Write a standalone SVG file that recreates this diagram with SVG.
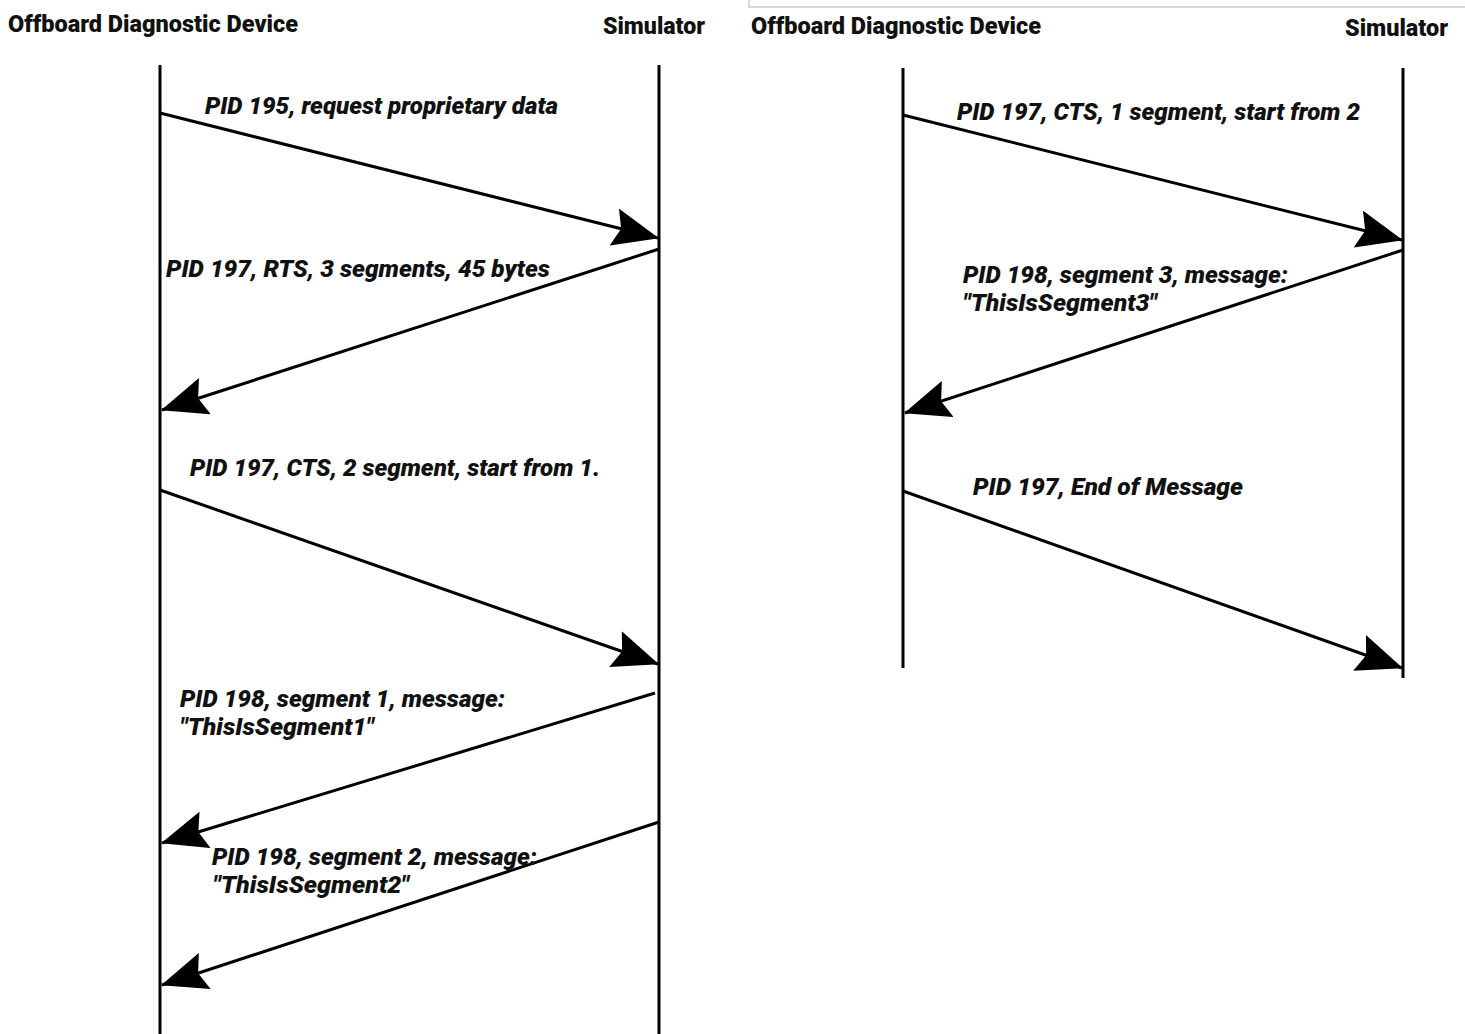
<svg xmlns="http://www.w3.org/2000/svg" width="1465" height="1034" viewBox="0 0 1465 1034">
<style>
.hdr{font-family:Roboto,"Liberation Sans",sans-serif;font-weight:900;font-size:24px;fill:#111}
.lbl{font-family:Roboto,"Liberation Sans",sans-serif;font-weight:900;font-style:italic;font-size:24px;fill:#111}
.life{stroke:#000;stroke-width:3;fill:none}
.msg{stroke:#000;stroke-width:3;fill:none;marker-end:url(#ah)}
</style>
<defs>
<marker id="ah" markerUnits="userSpaceOnUse" viewBox="0 0 46 38" refX="45" refY="19" markerWidth="46" markerHeight="38" orient="auto">
<path d="M0,0 L46,19 L0,38 L7,19 Z" fill="#000"/>
</marker>
</defs>
<rect width="1465" height="1034" fill="#fff"/>
<path d="M749,0 V7 H1465" stroke="#ccc" stroke-width="1.5" fill="none"/>
<g id="left-device"><text class="hdr" x="8" y="32" textLength="290" lengthAdjust="spacingAndGlyphs">Offboard Diagnostic Device</text><line class="life" x1="160" y1="65" x2="160" y2="1034"/></g>
<g id="left-simulator"><text class="hdr" x="603" y="34" textLength="102" lengthAdjust="spacingAndGlyphs">Simulator</text><line class="life" x1="659" y1="65" x2="659" y2="1034"/></g>
<g id="right-device"><text class="hdr" x="751" y="34" textLength="290" lengthAdjust="spacingAndGlyphs">Offboard Diagnostic Device</text><line class="life" x1="903" y1="68" x2="903" y2="668"/></g>
<g id="right-simulator"><text class="hdr" x="1345" y="36" textLength="103" lengthAdjust="spacingAndGlyphs">Simulator</text><line class="life" x1="1403" y1="68" x2="1403" y2="678"/></g>
<g id="connectors">
<line class="msg" x1="160" y1="113" x2="658" y2="238"/>
<line class="msg" x1="659" y1="249" x2="162" y2="410"/>
<line class="msg" x1="160" y1="490" x2="658" y2="664"/>
<line class="msg" x1="655" y1="693" x2="162" y2="843"/>
<line class="msg" x1="659" y1="822" x2="162" y2="985"/>
<line class="msg" x1="903" y1="115" x2="1402" y2="240"/>
<line class="msg" x1="1403" y1="250" x2="905" y2="413"/>
<line class="msg" x1="903" y1="491" x2="1402" y2="668"/>
</g>
<g id="labels">
<text class="lbl" x="205" y="114" textLength="353" lengthAdjust="spacingAndGlyphs">PID 195, request proprietary data</text>
<text class="lbl" x="166" y="277" textLength="384" lengthAdjust="spacingAndGlyphs">PID 197, RTS, 3 segments, 45 bytes</text>
<text class="lbl" x="190" y="476" textLength="410" lengthAdjust="spacingAndGlyphs">PID 197, CTS, 2 segment, start from 1.</text>
<text class="lbl" x="180" y="707" textLength="325" lengthAdjust="spacingAndGlyphs">PID 198, segment 1, message:</text>
<text class="lbl" x="180" y="735" textLength="194" lengthAdjust="spacingAndGlyphs">"ThisIsSegment1"</text>
<text class="lbl" x="212" y="865" textLength="325" lengthAdjust="spacingAndGlyphs">PID 198, segment 2, message:</text>
<text class="lbl" x="213" y="893" textLength="196" lengthAdjust="spacingAndGlyphs">"ThisIsSegment2"</text>
<text class="lbl" x="957" y="120" textLength="403" lengthAdjust="spacingAndGlyphs">PID 197, CTS, 1 segment, start from 2</text>
<text class="lbl" x="963" y="283" textLength="325" lengthAdjust="spacingAndGlyphs">PID 198, segment 3, message:</text>
<text class="lbl" x="963" y="311" textLength="194" lengthAdjust="spacingAndGlyphs">"ThisIsSegment3"</text>
<text class="lbl" x="973" y="495" textLength="270" lengthAdjust="spacingAndGlyphs">PID 197, End of Message</text>
</g>
</svg>
